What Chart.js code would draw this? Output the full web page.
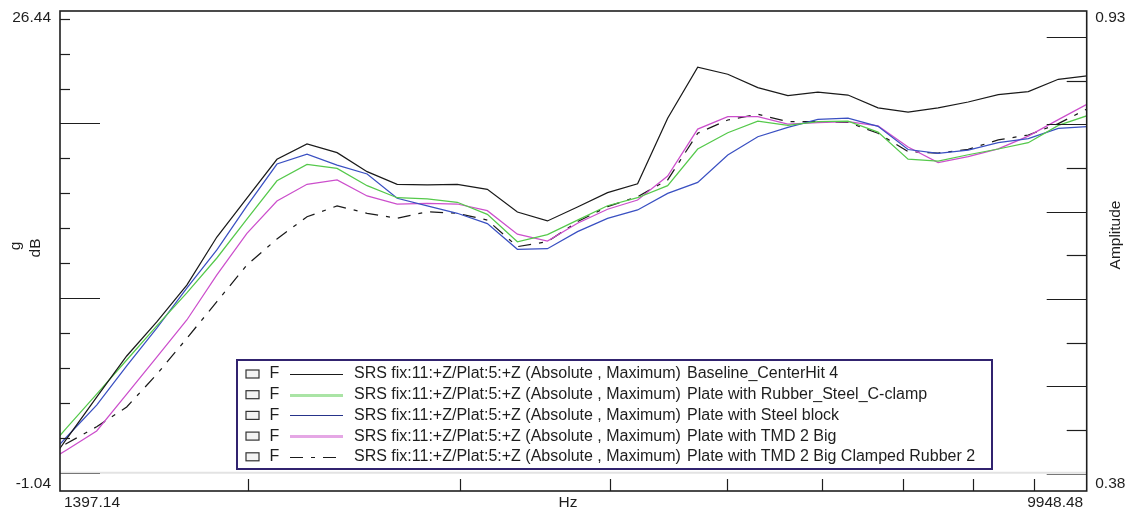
<!DOCTYPE html>
<html>
<head>
<meta charset="utf-8">
<title>SRS comparison</title>
<script src="https://cdn.jsdelivr.net/npm/chart.js@4.4.1/dist/chart.umd.min.js"></script>
<style>
  html, body { margin: 0; padding: 0; background: #ffffff; overflow: hidden; }
  canvas { display: block; }
</style>
</head>
<body>
<canvas id="srs" width="1133" height="514"></canvas>
<script>
// Analysis frequencies (Hz), 1/12-octave spacing
const freqHz = [1335.9, 1414.9, 1498.6, 1587.2, 1681.1, 1780.5, 1885.8, 1997.3, 2115.4, 2240.5,
  2373.1, 2513.4, 2662.0, 2819.5, 2986.2, 3162.9, 3349.9, 3548.0, 3757.9, 3980.1,
  4215.5, 4464.8, 4728.9, 5008.6, 5304.8, 5618.5, 5950.8, 6302.7, 6675.4, 7070.2,
  7488.3, 7931.2, 8400.2, 8897.0, 9423.2, 9980.5];

// SRS levels (dB) per configuration
const baseline = [-0.47, 1.94, 4.34, 6.69, 8.64, 10.75, 13.50, 15.73, 17.95, 18.83,
  18.33, 17.24, 16.52, 16.48, 16.52, 16.23, 14.93, 14.42, 15.22, 16.04,
  16.55, 20.30, 23.22, 22.82, 22.05, 21.59, 21.80, 21.63, 20.89, 20.65,
  20.89, 21.23, 21.65, 21.82, 22.53, 22.73];
const rubberClamp = [0.62, 2.57, 4.51, 6.46, 8.41, 10.30, 12.30, 14.53, 16.72, 17.66,
  17.43, 16.44, 15.75, 15.69, 15.49, 14.80, 13.23, 13.64, 14.47, 15.29,
  15.75, 16.44, 18.54, 19.47, 20.14, 19.89, 20.10, 20.13, 19.51, 17.96,
  17.85, 18.21, 18.54, 18.90, 19.89, 20.47];
const steelBlock = [0.22, 2.05, 3.88, 6.12, 8.29, 10.58, 12.76, 15.28, 17.68, 18.25,
  17.62, 17.11, 15.72, 15.28, 14.86, 14.27, 12.80, 12.83, 13.81, 14.57,
  15.05, 16.00, 16.63, 18.20, 19.24, 19.78, 20.24, 20.30, 19.84, 18.51,
  18.29, 18.48, 18.91, 19.13, 19.72, 19.82];
const tmdBig = [0.23, 1.31, 2.40, 4.51, 6.63, 8.75, 11.33, 13.71, 15.56, 16.52,
  16.77, 15.85, 15.39, 15.43, 15.39, 15.01, 13.66, 13.27, 14.29, 15.09,
  15.62, 16.99, 19.68, 20.39, 20.39, 19.97, 20.05, 20.10, 19.86, 18.65,
  17.76, 18.10, 18.55, 19.28, 20.22, 21.14];
const tmdClamped = [0.72, 1.68, 2.64, 3.77, 5.64, 7.70, 9.80, 11.90, 13.39, 14.66,
  15.28, 14.86, 14.57, 14.95, 14.86, 14.47, 12.95, 13.23, 14.38, 15.24,
  15.81, 16.77, 19.44, 20.20, 20.53, 20.10, 20.10, 20.07, 19.44, 18.39,
  18.31, 18.52, 19.06, 19.34, 19.99, 20.87];

const seriesNames = ['Baseline_CenterHit 4', 'Plate with Rubber_Steel_C-clamp',
  'Plate with Steel block', 'Plate with TMD 2 Big', 'Plate with TMD 2 Big Clamped Rubber 2'];
const legendPrefix = 'SRS fix:11:+Z/Plat:5:+Z (Absolute , Maximum)';
const legendMark = 'F';

// Axis ranges and ticks
const xRange = [1397.14, 9948.48];
const dbRange = [-1.04, 26.44];
const ampRange = [0.38, 0.93];
const xTicksHz = [2000, 3000, 4000, 5000, 6000, 7000, 8000, 9000];
const dbTicks = [0, 2, 4, 6, 8, 10, 12, 14, 16, 18, 20, 22, 24, 26];
const dbMajorTicks = [0, 10, 20];
const ampTicks = [0.40, 0.45, 0.50, 0.55, 0.60, 0.65, 0.70, 0.75, 0.80, 0.85, 0.90];
const ampMajorTicks = [0.40, 0.50, 0.60, 0.70, 0.80, 0.90];
const xTitle = 'Hz';
const leftTitles = ['g', 'dB'];
const rightTitle = 'Amplitude';

const FAMILY = '"Liberation Sans", Arial, sans-serif';
const FONT = '15.5px ' + FAMILY;
const LEGEND_FONT = '16px ' + FAMILY;
const INK = '#1e1e1e';

const styles = [
  { color: '#1a1a1a', legendColor: '#1a1a1a', legendWidth: 1.2, dash: [] },
  { color: '#55c94b', legendColor: 'rgba(85,201,75,0.5)', legendWidth: 3, dash: [] },
  { color: '#3a50c2', legendColor: '#26338a', legendWidth: 1.2, dash: [] },
  { color: '#cc4fcc', legendColor: 'rgba(204,79,204,0.5)', legendWidth: 3, dash: [] },
  { color: '#1a1a1a', legendColor: '#1a1a1a', legendWidth: 1.2, dash: [13, 8, 4, 8] }
];
const seriesValues = [baseline, rubberClamp, steelBlock, tmdBig, tmdClamped];

const datasets = seriesValues.map((vals, i) => ({
  label: legendPrefix + '  ' + seriesNames[i],
  data: vals.map((v, j) => ({ x: freqHz[j], y: v })),
  borderColor: styles[i].color,
  borderWidth: 1.25,
  borderDash: styles[i].dash,
  pointRadius: 0,
  tension: 0,
  fill: false,
  legendColor: styles[i].legendColor,
  legendWidth: styles[i].legendWidth
}));

function line(ctx, x1, y1, x2, y2) {
  ctx.beginPath(); ctx.moveTo(x1, y1); ctx.lineTo(x2, y2); ctx.stroke();
}

const axesAndLegend = {
  id: 'axesAndLegend',
  beforeDatasetsDraw(chart) {
    const { ctx, chartArea: a, scales } = chart;
    const y0 = scales.y.getPixelForValue(0);
    ctx.save();
    ctx.strokeStyle = '#e3e3e3';
    ctx.lineWidth = 2;
    line(ctx, a.left, y0, a.right, y0);
    ctx.restore();
  },
  afterDatasetsDraw(chart) {
    const { ctx, chartArea: a, scales } = chart;
    const xs = scales.x, ys = scales.y, as = scales.amp;
    ctx.save();

    // tick marks, drawn inward from each axis
    ctx.lineWidth = 1.2;
    dbTicks.forEach(v => {
      const py = Math.round(ys.getPixelForValue(v)) + 0.5;
      const len = dbMajorTicks.includes(v) ? 40 : 10;
      ctx.strokeStyle = v === 0 ? '#777777' : INK;
      line(ctx, a.left, py, a.left + len, py);
    });
    ampTicks.forEach(v => {
      const py = Math.round(as.getPixelForValue(v)) + 0.5;
      const len = ampMajorTicks.some(m => Math.abs(m - v) < 1e-6) ? 40 : 20;
      ctx.strokeStyle = Math.abs(v - 0.40) < 1e-6 ? '#777777' : INK;
      line(ctx, a.right - len, py, a.right, py);
    });
    ctx.strokeStyle = INK;
    xTicksHz.forEach(f => {
      const px = Math.round(xs.getPixelForValue(f)) + 0.5;
      line(ctx, px, a.bottom, px, a.bottom - 12);
    });

    // frame
    ctx.strokeStyle = INK;
    ctx.lineWidth = 1.6;
    ctx.strokeRect(a.left, a.top, a.right - a.left, a.bottom - a.top);

    // axis range labels
    ctx.fillStyle = INK;
    ctx.font = FONT;
    ctx.textBaseline = 'middle';
    ctx.textAlign = 'right';
    ctx.fillText(dbRange[1].toFixed(2), a.left - 9, a.top + 6.5);
    ctx.fillText(dbRange[0].toFixed(2), a.left - 9, a.bottom - 7.5);
    ctx.textAlign = 'left';
    ctx.fillText(ampRange[1].toFixed(2), a.right + 8.5, a.top + 6.5);
    ctx.fillText(ampRange[0].toFixed(2), a.right + 8.5, a.bottom - 7.5);
    ctx.fillText(xRange[0].toFixed(2), a.left + 4, a.bottom + 11.5);
    ctx.textAlign = 'right';
    ctx.fillText(xRange[1].toFixed(2), a.right - 3.5, a.bottom + 11.5);
    ctx.textAlign = 'center';
    ctx.fillText(xTitle, 568, a.bottom + 11.5);

    // rotated axis titles
    const vText = (txt, x, y) => {
      ctx.save();
      ctx.translate(x, y);
      ctx.rotate(-Math.PI / 2);
      ctx.textAlign = 'center';
      ctx.textBaseline = 'middle';
      ctx.fillText(txt, 0, 0);
      ctx.restore();
    };
    vText(leftTitles[0], 16, 246);
    vText(leftTitles[1], 36, 248);
    vText(rightTitle, 1116, 235);

    // legend box
    const box = { l: 237, t: 360, r: 992, b: 469 };
    ctx.fillStyle = '#ffffff';
    ctx.fillRect(box.l, box.t, box.r - box.l, box.b - box.t);
    ctx.strokeStyle = '#31236f';
    ctx.lineWidth = 2;
    ctx.strokeRect(box.l, box.t, box.r - box.l, box.b - box.t);

    chart.data.datasets.forEach((ds, i) => {
      const cy = 374 + i * 20.7;
      ctx.fillStyle = '#f3f3f3';
      ctx.fillRect(246, cy - 4, 13, 8);
      ctx.strokeStyle = '#333333';
      ctx.lineWidth = 1.2;
      ctx.setLineDash([]);
      ctx.strokeRect(246, cy - 4, 13, 8);

      ctx.fillStyle = INK;
      ctx.font = LEGEND_FONT;
      ctx.textAlign = 'left';
      ctx.textBaseline = 'middle';
      ctx.fillText(legendMark, 269.5, cy);

      ctx.strokeStyle = ds.legendColor;
      ctx.lineWidth = ds.legendWidth;
      ctx.setLineDash(ds.borderDash || []);
      line(ctx, 290, Math.round(cy) + 0.5, 343, Math.round(cy) + 0.5);
      ctx.setLineDash([]);

      ctx.fillText(legendPrefix, 354, cy);
      ctx.fillText(seriesNames[i], 687, cy);
    });

    ctx.restore();
  }
};

new Chart(document.getElementById('srs'), {
  type: 'line',
  data: { datasets },
  options: {
    responsive: false,
    animation: false,
    devicePixelRatio: 1,
    layout: { padding: { left: 60, top: 11, right: 46.3, bottom: 23 } },
    plugins: { legend: { display: false }, tooltip: { enabled: false } },
    elements: { line: { borderCapStyle: 'butt', borderJoinStyle: 'miter' } },
    scales: {
      x: { type: 'logarithmic', min: xRange[0], max: xRange[1], display: false },
      y: { type: 'linear', position: 'left', min: dbRange[0], max: dbRange[1], display: false },
      amp: { type: 'linear', position: 'right', min: ampRange[0], max: ampRange[1], display: false }
    }
  },
  plugins: [axesAndLegend]
});
</script>
</body>
</html>
